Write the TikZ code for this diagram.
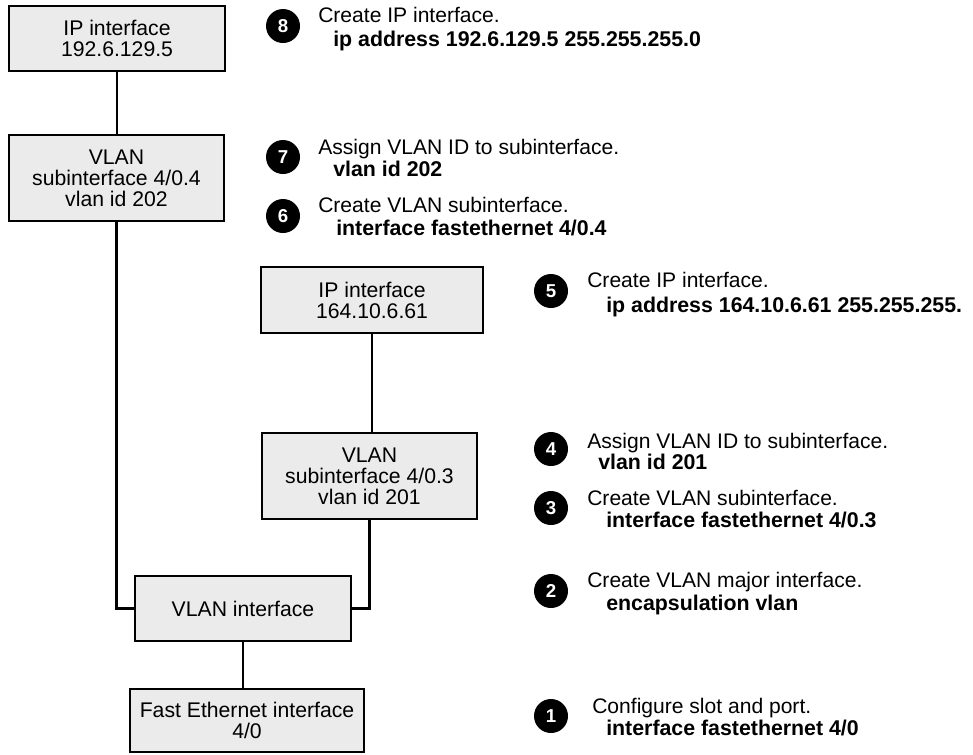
\documentclass[tikz,border=0pt]{standalone}
\usepackage{fontspec}
\setmainfont{Liberation Sans}
\definecolor{boxgray}{RGB}{235,235,235}
\begin{document}
\begin{tikzpicture}[x=0.75pt,y=-0.75pt,
  ifbox/.style={draw=black, line width=1.6pt, fill=boxgray, inner sep=0pt, outer sep=0pt,
    align=center, font=\fontsize{15.9}{15.8}\selectfont},
  wire/.style={line width=1.6pt},
  stepnum/.style={circle, fill=black, inner sep=0pt, minimum size=25.5pt,
    text=white, font=\fontsize{14}{14}\bfseries\selectfont},
  steptitle/.style={anchor=base west, inner sep=0pt, font=\fontsize{15.8}{15.8}\selectfont},
  stepcmd/.style={anchor=base west, inner sep=0pt, font=\fontsize{16}{16}\bfseries\selectfont}]
\useasboundingbox (0,0) rectangle (973,754);

% interface stack
\node[ifbox, minimum width=162pt, minimum height=48.75pt] (ip8) at (117,38.5)
  {IP interface\\192.6.129.5};
\node[ifbox, minimum width=161.25pt, minimum height=64.5pt] (sub4) at (116.5,178)
  {VLAN\\subinterface 4/0.4\\vlan id 202};
\node[ifbox, minimum width=166.5pt, minimum height=49.5pt] (ip5) at (372,300)
  {IP interface\\164.10.6.61};
\node[ifbox, minimum width=161.25pt, minimum height=64.5pt] (sub3) at (369.5,476)
  {VLAN\\subinterface 4/0.3\\vlan id 201};
\node[ifbox, minimum width=162pt, minimum height=48.75pt] (vif) at (243,608.5)
  {VLAN interface};
\node[ifbox, minimum width=175.5pt, minimum height=47.25pt] (fe) at (247,720.5)
  {Fast Ethernet interface\\4/0};

% connectors
\draw[wire] (ip8.south) -- (ip8.south |- sub4.north);
\draw[wire] (sub4.south) |- (vif.west);
\draw[wire] (ip5.south) -- (ip5.south |- sub3.north);
\draw[wire] (sub3.south) |- (vif.east);
\draw[wire] (vif.south) -- (vif.south |- fe.north);

% numbered configuration steps
\node[stepnum] (n8) at (283,26) {8};
\node[steptitle] (t8) at (318,22.5) {Create IP interface.};
\node[stepcmd] (c8) at (333,46.5) {ip address 192.6.129.5 255.255.255.0};

\node[stepnum] (n7) at (283,157) {7};
\node[steptitle] (t7) at (318,154.5) {Assign VLAN ID to subinterface.};
\node[stepcmd] (c7) at (333,176.5) {vlan id 202};

\node[stepnum] (n6) at (283,216) {6};
\node[steptitle] (t6) at (318,212.5) {Create VLAN subinterface.};
\node[stepcmd] (c6) at (336,235.5) {interface fastethernet 4/0.4};

\node[stepnum] (n5) at (551,291) {5};
\node[steptitle] (t5) at (587,287.5) {Create IP interface.};
\node[stepcmd] (c5) at (606,312.5) {ip address 164.10.6.61 255.255.255.};

\node[stepnum] (n4) at (551,449) {4};
\node[steptitle] (t4) at (587,448.5) {Assign VLAN ID to subinterface.};
\node[stepcmd] (c4) at (598,469.5) {vlan id 201};

\node[stepnum] (n3) at (551,508) {3};
\node[steptitle] (t3) at (587,505.5) {Create VLAN subinterface.};
\node[stepcmd] (c3) at (606,527.5) {interface fastethernet 4/0.3};

\node[stepnum] (n2) at (551,591) {2};
\node[steptitle] (t2) at (587,587.5) {Create VLAN major interface.};
\node[stepcmd] (c2) at (606,610.5) {encapsulation vlan};

\node[stepnum] (n1) at (551,716) {1};
\node[steptitle] (t1) at (592,713.5) {Configure slot and port.};
\node[stepcmd] (c1) at (606,735.5) {interface fastethernet 4/0};
\end{tikzpicture}
\end{document}
